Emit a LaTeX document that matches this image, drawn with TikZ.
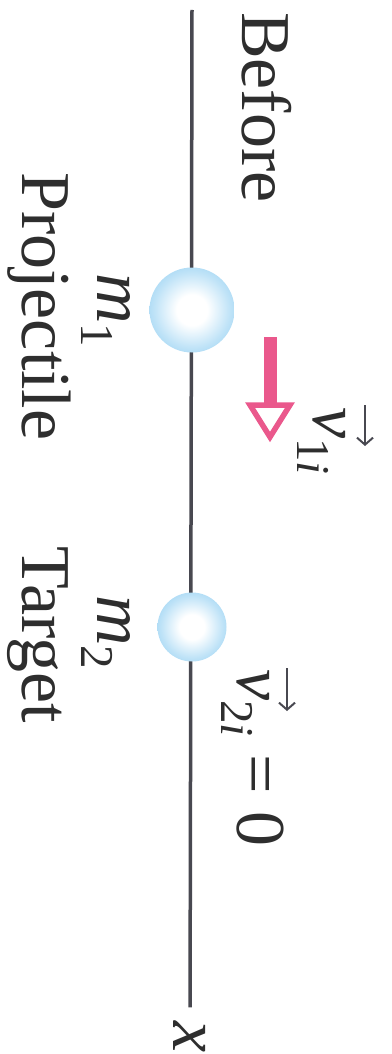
\documentclass[tikz,border=0pt]{standalone}
\usepackage{fontspec}
\setmainfont{Liberation Serif}
\usetikzlibrary{arrows.meta}

\definecolor{axisgray}{RGB}{72,72,80}
\definecolor{orbblue}{RGB}{130,200,240}
\definecolor{arrowpink}{RGB}{234,88,140}

\pgfdeclareradialshading{orb}{\pgfpoint{0bp}{0bp}}{%
  color(0bp)=(white); color(9bp)=(white); color(22bp)=(orbblue!50);
  color(34bp)=(orbblue!90); color(42bp)=(orbblue); color(50bp)=(orbblue!55)}

\newcommand{\lowsub}[1]{\raisebox{-16pt}{\fontsize{47}{49}\selectfont #1}}

\begin{document}
\begin{tikzpicture}[x=1pt, y=-1pt, font=\fontsize{70}{72}\selectfont,
  rottext/.style={rotate=-90, inner sep=0pt, anchor=base west, text=black!82},
  orbnode/.style={circle, inner sep=0pt, shading=orb},
  vecmark/.style={draw=axisgray, line width=2pt, -{Straight Barb[length=7pt,width=16pt]}}]

  \useasboundingbox (0,0) rectangle (391,1054);

  % Axis
  \coordinate (top) at (192,10);
  \node[rottext, anchor=center] (xlab) at (190,1037) {\textit{x}};
  \draw[axisgray, line width=3.5pt, shorten >=14pt] (top) -- (xlab);

  % Balls
  \node[orbnode, minimum size=85pt] (proj) at (192,310) {};
  \node[orbnode, minimum size=69pt] (targ) at (192,627) {};

  % Velocity arrow of the projectile
  \fill[arrowpink] (264,337) rectangle (277,406);
  \draw[arrowpink, line width=5.5pt, fill=white] (250,405) -- (290,405) -- (270,437) -- cycle;

  % Texts
  \node[rottext] (before)   at (242,12)  {Before};
  \node[rottext] (projtext) at (22,172)  {Projectile};
  \node[rottext] (targtext) at (23,546)  {Target};
  \node[rottext] (m1) at (97,273) {\textit{m}\lowsub{1}};
  \node[rottext] (m2) at (97,595) {\textit{m}\lowsub{2}};
  \node[rottext] (v1) at (313,407) {\textit{v}\lowsub{1\textit{i}}};
  \node[rottext] (v2) at (237,669) {\textit{v}\lowsub{2\textit{i}} = 0};

  % Vector marks
  \draw[vecmark] (365,405) -- (365,446);
  \draw[vecmark] (287,668) -- (287,711);

\end{tikzpicture}
\end{document}
